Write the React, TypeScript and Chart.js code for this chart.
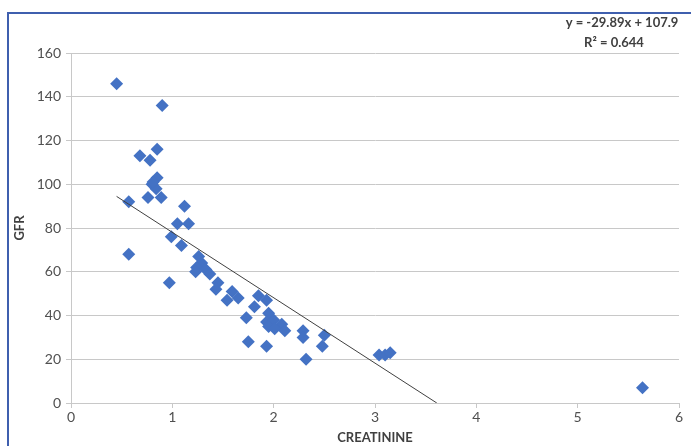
import React, { useEffect, useRef } from "react";
import { Chart, registerables } from "chart.js";

Chart.register(...registerables);

const creatinine = [
  0.45, 0.9, 0.85, 0.68, 0.78, 0.85, 0.8, 0.84, 0.81, 0.76, 0.89, 0.57, 1.12, 1.05, 1.16, 0.99, 1.09,
  0.57, 1.26, 1.29, 1.24, 1.23, 1.33, 1.37, 0.97, 1.45, 1.43, 1.59, 1.54, 1.65, 1.73, 1.81, 1.85,
  1.93, 1.75, 1.93, 1.95, 1.93, 2.0, 2.08, 1.95, 2.01, 2.11, 2.29, 2.29, 2.5, 2.48, 2.32, 3.04, 3.1,
  3.15, 5.64,
];
const gfr = [
  146, 136, 116, 113, 111, 103, 100, 98, 101, 94, 94, 92, 90, 82, 82, 76, 72,
  68, 67, 64, 62, 60, 61, 59, 55, 55, 52, 51, 47, 48, 39, 44, 49,
  47, 28, 26, 41, 37, 38, 36, 35, 34, 33, 33, 30, 31, 26, 20, 22, 22,
  23, 7,
];
const slope = -29.89;
const intercept = 107.9;
const equationLines = ["y = -29.89x + 107.9", "R² = 0.644"];
const xTicks = [0, 1, 2, 3, 4, 5, 6];
const yTicks = [0, 20, 40, 60, 80, 100, 120, 140, 160];

const FONT = "Lato, 'Open Sans', sans-serif";
const TEXT = "#505050";
const GRID = "#c8c8c8";

export default function App() {
  const ref = useRef<HTMLCanvasElement | null>(null);

  useEffect(() => {
    if (!ref.current) return;
    const xMin = Math.min(...creatinine);
    const xRoot = -intercept / slope;
    const trend = [
      { x: xMin, y: slope * xMin + intercept },
      { x: xRoot, y: slope * xRoot + intercept },
    ];
    const eqPlugin = {
      id: "eq",
      afterDraw(chart: any) {
        const ctx = chart.ctx;
        ctx.save();
        ctx.fillStyle = "#404040";
        ctx.font = `bold 13px ${FONT}`;
        ctx.textAlign = "center";
        ctx.textBaseline = "middle";
        ctx.fillText(equationLines[0], 622, 23);
        ctx.fillText(equationLines[1], 614, 43);
        ctx.restore();
      },
    };
    const chart = new Chart(ref.current, {
      type: "scatter",
      data: {
        datasets: [
          {
            label: "GFR",
            data: creatinine.map((x, i) => ({ x, y: gfr[i] })),
            pointStyle: "rectRot",
            pointRadius: 6.5,
            backgroundColor: "#4472C4",
            borderColor: "#4472C4",
            borderWidth: 0,
            order: 1,
          },
          {
            type: "line",
            label: "trend",
            data: trend,
            borderColor: "#404040",
            borderWidth: 1,
            pointRadius: 0,
            fill: false,
            order: 0,
          } as any,
        ],
      },
      options: {
        animation: false,
        responsive: false,
        layout: { padding: { left: 12, top: 53, right: 12, bottom: 0 } },
        plugins: { legend: { display: false }, tooltip: { enabled: false } },
        scales: {
          x: {
            type: "linear",
            min: 0,
            max: 6,
            afterBuildTicks: (s: any) => {
              s.ticks = xTicks.map((v) => ({ value: v }));
            },
            afterFit: (s: any) => {
              s.height = 43;
            },
            grid: { drawOnChartArea: false, drawTicks: true, tickLength: 5, color: GRID },
            border: { display: true, color: GRID },
            ticks: { color: TEXT, font: { family: FONT, size: 14 }, padding: 1 },
            title: {
              display: true,
              text: "CREATININE",
              color: "#404040",
              font: { family: FONT, size: 13, weight: "bold" },
              padding: { top: 0, bottom: 0 },
            },
          },
          y: {
            type: "linear",
            min: 0,
            max: 160,
            afterBuildTicks: (s: any) => {
              s.ticks = yTicks.map((v) => ({ value: v }));
            },
            afterFit: (s: any) => {
              s.width = 59;
            },
            grid: { color: GRID, drawTicks: true, tickLength: 5 },
            border: { display: true, color: GRID },
            ticks: { color: TEXT, font: { family: FONT, size: 14 }, padding: 5 },
            title: {
              display: true,
              text: "GFR",
              color: "#404040",
              font: { family: FONT, size: 13, weight: "bold" },
              padding: { top: 0, bottom: 2 },
            },
          },
        },
      },
      plugins: [eqPlugin],
    } as any);
    return () => chart.destroy();
  }, []);

  return (
    <div style={{ position: "fixed", left: 0, top: 0, width: 691, height: 446, background: "#fff" }}>
      <div
        style={{
          position: "absolute",
          left: 7,
          top: 12,
          right: 0,
          bottom: 0,
          borderTop: "2px solid #3f5fae",
          borderLeft: "2px solid #3f5fae",
        }}
      />
      <canvas ref={ref} width={691} height={446} style={{ position: "absolute", left: 0, top: 0 }} />
    </div>
  );
}
